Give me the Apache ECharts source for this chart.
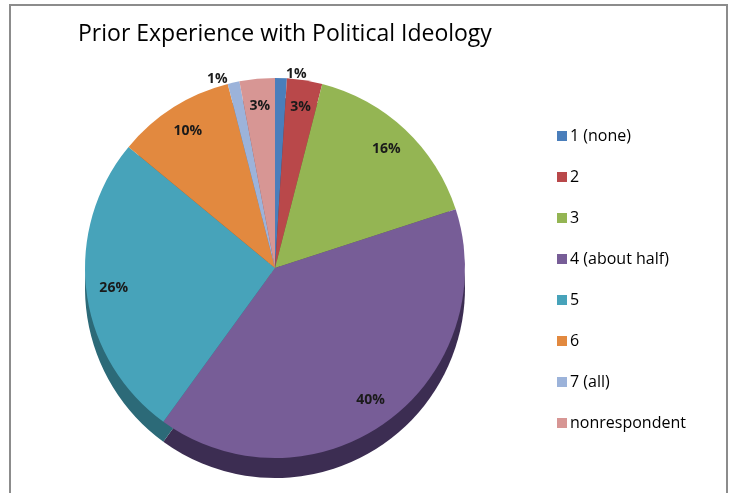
<!DOCTYPE html>
<html><head><meta charset="utf-8">
<script src="https://cdn.jsdelivr.net/npm/echarts@6/dist/echarts.min.js"></script>
<style>html,body{margin:0;padding:0;background:#fff}#c{width:735px;height:493px}</style>
</head><body><div id="c"></div>
<script>
const categories = ['1 (none)', '2', '3', '4 (about half)', '5', '6', '7 (all)', 'nonrespondent'];
const percents = [1, 3, 16, 40, 26, 10, 1, 3];
const topColors = ['#4a7ebb', '#b9484a', '#94b553', '#775d97', '#47a3ba', '#e2893f', '#9cb3da', '#d79694'];
const sideColors = ['#2c4d73', '#72292a', '#5b7032', '#3c2d52', '#2c6a78', '#8c5224', '#5f6f88', '#86585a'];

const FONT = 'Open Sans';
const CX = 275, CY = 268, R = 190, DEPTH = 20;

const topData = categories.map((n, i) => ({ name: n, value: percents[i], itemStyle: { color: topColors[i] } }));
const sideData = categories.map((n, i) => ({ name: n, value: percents[i], itemStyle: { color: sideColors[i] } }));
const labelData = categories.map((n, i) => ({
  name: n, value: percents[i],
  label: percents[i] <= 1 ? { position: 'outside', distance: 4 } : { position: 'inside' }
}));

const chart = echarts.init(document.getElementById('c'));
chart.setOption({
  animation: false,
  backgroundColor: '#fff',
  graphic: [{ type: 'rect', shape: { x: 10, y: 5, width: 717, height: 500 }, style: { fill: 'none', stroke: '#8c8c8c', lineWidth: 2 }, silent: true }],
  title: {
    text: 'Prior Experience with Political Ideology',
    left: 73, top: 18,
    textStyle: { fontFamily: FONT, fontSize: 23, fontWeight: 'normal', color: '#000' }
  },
  legend: {
    orient: 'vertical', left: 552, top: 123,
    itemWidth: 10, itemHeight: 10, itemGap: 25,
    icon: 'rect',
    data: categories,
    textStyle: { fontFamily: FONT, fontSize: 16, color: '#000', padding: [0, 0, 0, -2] }
  },
  series: [
    {
      type: 'pie', silent: true, z: 3,
      center: [CX, CY], radius: R, startAngle: 90, clockwise: true,
      label: { show: false }, labelLine: { show: false },
      data: topData
    },
    {
      type: 'pie', silent: true, legendHoverLink: false, z: 2,
      center: [CX, CY + DEPTH], radius: R, startAngle: 90, clockwise: true,
      label: { show: false }, labelLine: { show: false },
      data: sideData
    },
    {
      type: 'pie', silent: true, legendHoverLink: false, z: 4,
      center: [CX, CY], radius: [R * 0.68, R], startAngle: 90, clockwise: true,
      itemStyle: { color: 'rgba(0,0,0,0)' },
      label: { show: true, formatter: '{c}%', fontFamily: FONT, fontSize: 14, fontWeight: 'bold', color: '#1a1a1a' },
      labelLine: { show: false, length: 4, length2: 0 },
      data: labelData
    }
  ]
});
</script></body></html>
